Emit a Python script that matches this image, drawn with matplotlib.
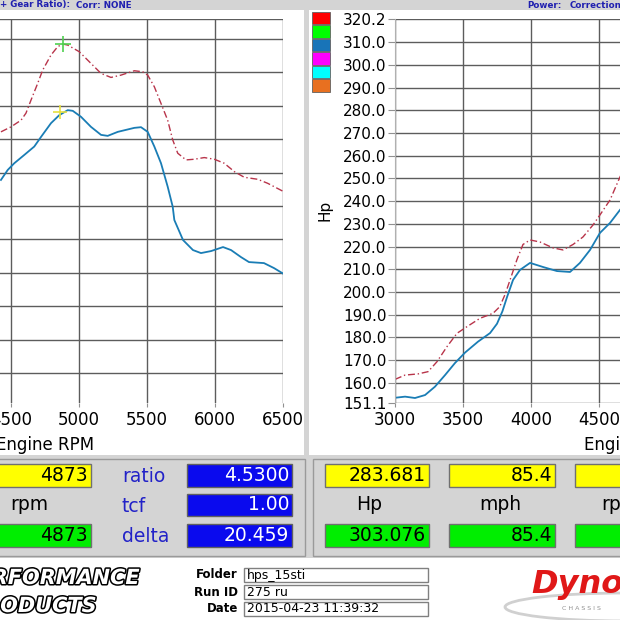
import matplotlib
matplotlib.use('Agg')
import matplotlib.pyplot as plt
import matplotlib.patheffects as pe
from matplotlib.patches import Rectangle, Ellipse

# torque vs rpm (left chart)
tq_rpm = [4426, 4476, 4524, 4598, 4671, 4721, 4794, 4855, 4917, 4954, 5015, 5088, 5162, 5211,
          5285, 5407, 5456, 5505, 5554, 5603, 5652, 5689, 5701, 5765, 5838, 5897, 5971, 6059,
          6118, 6191, 6250, 6360, 6434, 6507]
tq_uncorr = [284.8, 287.8, 289.8, 292.3, 294.8, 297.7, 301.8, 304.2, 305.7, 305.5, 303.7, 300.7, 298.3, 298.0,
             299.2, 300.4, 300.6, 299.2, 294.8, 289.8, 282.8, 276.8, 272.8, 266.8, 263.8, 262.9, 263.5, 264.7,
             263.8, 261.7, 260.2, 259.9, 258.4, 256.6]
tq_corr_rpm = [4426, 4500, 4574, 4610, 4647, 4696, 4733, 4794, 4843, 4880, 4917, 5002, 5088, 5162,
               5235, 5309, 5407, 5468, 5505, 5554, 5603, 5652, 5689, 5726, 5787, 5848, 5921, 5995,
               6068, 6142, 6215, 6314, 6387, 6505]
tq_corr = [299.2, 300.7, 302.7, 304.8, 308.7, 313.7, 317.7, 322.2, 324.7, 325.5, 325.2, 323.2, 319.7, 316.7,
           315.5, 316.2, 317.5, 317.2, 316.2, 312.7, 307.7, 302.7, 296.8, 292.8, 290.8, 291.0, 291.5, 291.0,
           289.8, 287.3, 285.6, 285.0, 283.8, 281.3]

# horsepower vs rpm (right chart)
hp_rpm = [3000, 3074, 3147, 3221, 3294, 3368, 3441, 3515, 3610, 3699, 3750, 3790, 3824, 3868,
          3919, 3993, 4088, 4191, 4287, 4360, 4434, 4507, 4581, 4654, 4700]
hp_uncorr = [153.4, 153.9, 153.3, 154.6, 158.3, 163.4, 168.7, 173.3, 178.1, 181.9, 186.0, 191.5, 197.8, 205.3,
             209.7, 212.8, 211.0, 209.2, 208.8, 212.8, 218.5, 226.0, 230.4, 236.1, 239.5]
hp_corr_rpm = [3000, 3074, 3169, 3243, 3309, 3382, 3456, 3529, 3625, 3721, 3770, 3810, 3846, 3897,
               3941, 3993, 4066, 4162, 4235, 4309, 4382, 4456, 4507, 4581, 4654, 4700]
hp_corr = [161.5, 163.4, 163.9, 164.9, 169.3, 175.9, 181.8, 184.7, 188.4, 190.6, 193.5, 199.0, 205.3, 214.3,
           220.9, 222.9, 222.0, 219.4, 218.5, 220.9, 224.2, 229.5, 233.9, 240.5, 250.6, 256.0]

# cursor markers on the torque chart
cursor_rpm = [4880, 4860]
cursor_tq = [325.5, 305.0]

rpm_ticks = [3000, 3500, 4000, 4500, 5000, 5500, 6000, 6500]
hp_ticks = [151.1, 160, 170, 180, 190, 200, 210, 220, 230, 240, 250, 260, 270, 280, 290, 300, 310, 320.2]
tq_grid = [227, 237, 247, 257, 267, 277, 287, 297, 307, 317, 327, 333]

legend_colors = ['#ff0000', '#00ff00', '#1874b8', '#ff00ff', '#00ffff', '#e87020']

readout_yellow = ['4873', '283.681', '85.4']
readout_green = ['4873', '303.076', '85.4']
readout_names = ['rpm', 'Hp', 'mph']
ratio_names = ['ratio', 'tcf', 'delta']
ratio_values = ['4.5300', '1.00', '20.459']
info_names = ['Folder', 'Run ID', 'Date']
info_values = ['hps_15sti', '275 ru', '2015-04-23 11:39:32']

W = H = 620
GRAY = '#d4d4d4'
GRID = '#5c5c5c'
BLUE = '#1a7db5'
RED = '#b8344a'
LBLUE = '#2222c8'


def fx(px):
    return px / W


def fy(py):
    return 1 - py / H


def rect(fig, x0, y0, x1, y1, fc, ec='none', lw=0, z=-5):
    fig.add_artist(Rectangle((fx(x0), fy(y1)), (x1 - x0) / W, (y1 - y0) / H,
                             transform=fig.transFigure, fc=fc, ec=ec, lw=lw, zorder=z))


def style_axes(ax):
    ax.set_facecolor('none')
    for s in ['top', 'right', 'bottom']:
        ax.spines[s].set_visible(False)
    ax.spines['left'].set_color('#b0b0b0')
    ax.set_xlim(3000, 6500)
    ax.set_xticks(rpm_ticks)
    ax.tick_params(axis='x', direction='out', length=3, color='#909090', pad=3, labelsize=12)
    ax.grid(True, color=GRID, lw=1.0)
    ax.set_axisbelow(True)
    ax.set_xlabel('Engine RPM', fontsize=12, labelpad=5)


fig = plt.figure(figsize=(6.2, 6.2), dpi=100)
fig.patch.set_facecolor(GRAY)

# panels
rect(fig, 0, 10, 304, 455, 'white')
rect(fig, 309, 10, 620, 455, 'white')
rect(fig, 0, 558, 620, 620, 'white')
rect(fig, -2, 459, 305, 556, 'none', '#9a9a9a', 1.0)
rect(fig, 313, 459, 625, 556, 'none', '#9a9a9a', 1.0)

# header text
hdr = dict(color='#2020b0', fontsize=6.3, fontweight='bold', va='center')
fig.text(fx(0), fy(5), '+ Gear Ratio):', **hdr)
fig.text(fx(76), fy(5), 'Corr: NONE', **hdr)
fig.text(fx(527), fy(5), 'Power:', **hdr)
fig.text(fx(570), fy(5), 'Correction', **hdr)

# left chart (torque)
ax1 = fig.add_axes([fx(283 - 476), fy(403), 476 / W, 384 / H])
style_axes(ax1)
ax1.set_ylim(218, 333)
ax1.set_yticks(tq_grid)
ax1.tick_params(axis='y', length=0, labelleft=False)
ax1.plot(tq_corr_rpm, tq_corr, color=RED, lw=1.0, ls=(0, (5, 2, 1, 2)))
ax1.plot(tq_rpm, tq_uncorr, color=BLUE, lw=1.3)
ax1.plot(cursor_rpm[0], cursor_tq[0], marker='+', ms=12, mew=1.2, color='#50d050')
ax1.plot(cursor_rpm[1], cursor_tq[1], marker='+', ms=10, mew=1.2, color='#e8e040')

# right chart (horsepower)
ax2 = fig.add_axes([fx(395), fy(403), 476 / W, 384 / H])
style_axes(ax2)
ax2.set_ylim(151.1, 320.2)
ax2.set_yticks(hp_ticks)
ax2.set_yticklabels(['%.1f' % v for v in hp_ticks])
ax2.tick_params(axis='y', direction='out', length=5, color='#909090', pad=1, labelsize=11)
ax2.plot(hp_corr_rpm, hp_corr, color=RED, lw=1.0, ls=(0, (5, 2, 1, 2)))
ax2.plot(hp_rpm, hp_uncorr, color=BLUE, lw=1.3)
fig.text(fx(325), fy(210), 'Hp', rotation=90, fontsize=11, ha='center', va='center')

# legend colour swatches
for i, c in enumerate(legend_colors):
    y0 = 12 + i * 13.5
    rect(fig, 312, y0, 330, y0 + 12, c, '#606060', 0.6, z=5)

# readout boxes
rows = [(464, 487), (494, 516), (524, 547)]
ycen = [(a + b) / 2 for a, b in rows]
val = dict(fontsize=13.5, ha='right', va='center')
boxes_x = [(-40, 91), (325, 429), (449, 555), (575, 680)]
name_x = [29, 369, 500]
for i in range(3):
    x0, x1 = boxes_x[i]
    rect(fig, x0, rows[0][0], x1, rows[0][1], '#ffff00', '#707070', 1.0, z=2)
    rect(fig, x0, rows[2][0], x1, rows[2][1], '#00ee00', '#707070', 1.0, z=2)
    fig.text(fx(x1 - 3), fy(ycen[0]), readout_yellow[i], **val)
    fig.text(fx(x1 - 3), fy(ycen[2]), readout_green[i], **val)
    fig.text(fx(name_x[i]), fy(ycen[1]), readout_names[i], fontsize=13.5, ha='center', va='center')
# partly visible rpm column on the right
x0, x1 = boxes_x[3]
rect(fig, x0, rows[0][0], x1, rows[0][1], '#ffff00', '#707070', 1.0, z=2)
rect(fig, x0, rows[2][0], x1, rows[2][1], '#00ee00', '#707070', 1.0, z=2)
fig.text(fx(620), fy(ycen[1]), 'rpm', fontsize=13.5, ha='center', va='center')

for i in range(3):
    rect(fig, 187, rows[i][0], 292, rows[i][1], '#0a0aee', '#606060', 1.0, z=2)
    fig.text(fx(289), fy(ycen[i]), ratio_values[i], color='white', **val)
    fig.text(fx(122), fy(ycen[i] + 1), ratio_names[i], color=LBLUE, fontsize=13.5, ha='left', va='center')

# footer
outline = [pe.Stroke(linewidth=2.2, foreground='black'), pe.Normal()]
fig.text(fx(140), fy(578), 'PERFORMANCE', color='white', fontsize=15, fontweight='heavy',
         style='italic', ha='right', va='center', path_effects=outline)
fig.text(fx(97), fy(606), 'PRODUCTS', color='white', fontsize=15, fontweight='heavy',
         style='italic', ha='right', va='center', path_effects=outline)

for i in range(3):
    yc = 575 + i * 17
    rect(fig, 244, yc - 7, 428, yc + 7, 'white', '#808080', 1.0, z=2)
    fig.text(fx(238), fy(yc), info_names[i], fontsize=8.5, fontweight='bold', ha='right', va='center')
    fig.text(fx(247), fy(yc), info_values[i], fontsize=9, ha='left', va='center')

fig.add_artist(Ellipse((fx(625), fy(607)), 240 / W, 28 / H, transform=fig.transFigure,
                       fc='none', ec='#d0d0d0', lw=2, zorder=2))
fig.text(fx(531), fy(584), 'Dyno', color='#e01818', fontsize=23, fontweight='heavy',
         style='italic', ha='left', va='center')
fig.text(fx(562), fy(608), 'C H A S S I S', color='#909090', fontsize=4.5, ha='left', va='center')

fig.savefig('out.png', dpi=100, facecolor=fig.get_facecolor())
